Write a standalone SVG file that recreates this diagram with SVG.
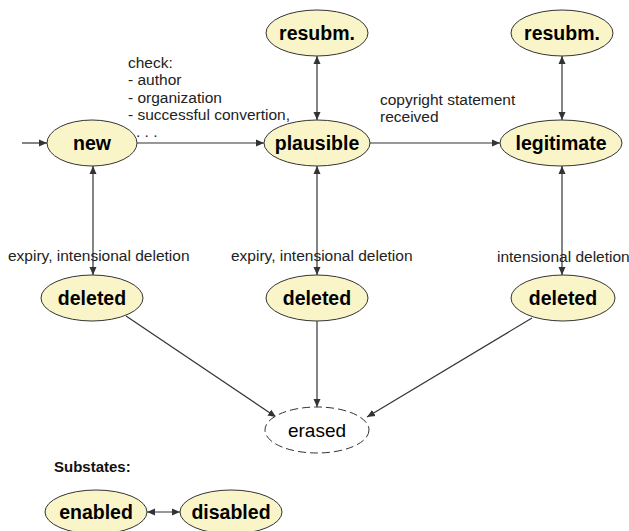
<svg xmlns="http://www.w3.org/2000/svg" width="629" height="531" viewBox="0 0 629 531">
<style>
.st{fill:#f9f5c9;stroke:#333;stroke-width:1}
.er{fill:#fff;stroke:#333;stroke-width:1;stroke-dasharray:8 4}
.nl{font-family:"Liberation Sans",Arial,sans-serif;font-weight:bold;font-size:19.5px;fill:#000;text-anchor:middle}
.el{font-family:"Liberation Sans",Arial,sans-serif;font-size:19px;fill:#000;text-anchor:middle}
.lb{font-family:"Liberation Sans",Arial,sans-serif;font-size:15.5px;fill:#222}
.hd{font-family:"Liberation Sans",Arial,sans-serif;font-weight:bold;font-size:15px;fill:#111}
.c{fill:none;stroke:#333;stroke-width:1.2}
</style>
<defs>
<marker id="ah" markerUnits="userSpaceOnUse" markerWidth="10" markerHeight="10" refX="8" refY="4" orient="auto-start-reverse">
<path d="M0,0.5 L8,4 L0,7.5 Z" fill="#333"/>
</marker>
</defs>
<g id="connectors">
<line class="c" x1="22" y1="143" x2="47" y2="143" marker-end="url(#ah)"/>
<line class="c" x1="137" y1="143" x2="264" y2="143" marker-end="url(#ah)"/>
<line class="c" x1="370" y1="143" x2="500" y2="143" marker-end="url(#ah)"/>
<line class="c" x1="317" y1="56" x2="317" y2="120" marker-start="url(#ah)" marker-end="url(#ah)"/>
<line class="c" x1="562" y1="56" x2="562" y2="120" marker-start="url(#ah)" marker-end="url(#ah)"/>
<line class="c" x1="93" y1="166" x2="93" y2="275" marker-start="url(#ah)" marker-end="url(#ah)"/>
<line class="c" x1="317" y1="166" x2="317" y2="275" marker-start="url(#ah)" marker-end="url(#ah)"/>
<line class="c" x1="562" y1="166" x2="562" y2="275" marker-start="url(#ah)" marker-end="url(#ah)"/>
<line class="c" x1="126" y1="316" x2="276" y2="417" marker-end="url(#ah)"/>
<line class="c" x1="317" y1="321" x2="317" y2="407" marker-end="url(#ah)"/>
<line class="c" x1="532" y1="318" x2="367" y2="417" marker-end="url(#ah)"/>
<line class="c" x1="147" y1="512" x2="180" y2="512" marker-start="url(#ah)" marker-end="url(#ah)"/>
</g>
<g id="labels">
<text class="lb" x="128" y="68">check:</text>
<text class="lb" x="128" y="85">- author</text>
<text class="lb" x="128" y="103">- organization</text>
<text class="lb" x="128" y="120">- successful convertion,</text>
<text class="lb" x="136" y="137">. . .</text>
<text class="lb" x="380" y="105">copyright statement</text>
<text class="lb" x="380" y="122">received</text>
<text class="lb" x="8" y="261">expiry, intensional deletion</text>
<text class="lb" x="231" y="261">expiry, intensional deletion</text>
<text class="lb" x="497" y="262">intensional deletion</text>
<text class="hd" x="54" y="472">Substates:</text>
</g>
<g id="new"><ellipse class="st" cx="92" cy="143" rx="45" ry="23"/><text class="nl" x="92" y="150">new</text></g>
<g id="plausible"><ellipse class="st" cx="317" cy="143" rx="53" ry="23"/><text class="nl" x="317" y="150">plausible</text></g>
<g id="legitimate"><ellipse class="st" cx="561" cy="143" rx="61" ry="23"/><text class="nl" x="561" y="150">legitimate</text></g>
<g id="resubm1"><ellipse class="st" cx="317" cy="33" rx="51" ry="23"/><text class="nl" x="317" y="40">resubm.</text></g>
<g id="resubm2"><ellipse class="st" cx="562" cy="33" rx="51" ry="23"/><text class="nl" x="562" y="40">resubm.</text></g>
<g id="deleted1"><ellipse class="st" cx="92" cy="298" rx="51" ry="23"/><text class="nl" x="92" y="305">deleted</text></g>
<g id="deleted2"><ellipse class="st" cx="317" cy="298" rx="51" ry="23"/><text class="nl" x="317" y="305">deleted</text></g>
<g id="deleted3"><ellipse class="st" cx="563" cy="298" rx="52" ry="23"/><text class="nl" x="563" y="305">deleted</text></g>
<g id="erased"><ellipse class="er" cx="317" cy="430" rx="52" ry="23"/><text class="el" x="317" y="437">erased</text></g>
<g id="enabled"><ellipse class="st" cx="96" cy="512" rx="51" ry="22"/><text class="nl" x="96" y="519">enabled</text></g>
<g id="disabled"><ellipse class="st" cx="231" cy="512" rx="51" ry="22"/><text class="nl" x="231" y="519">disabled</text></g>
</svg>
